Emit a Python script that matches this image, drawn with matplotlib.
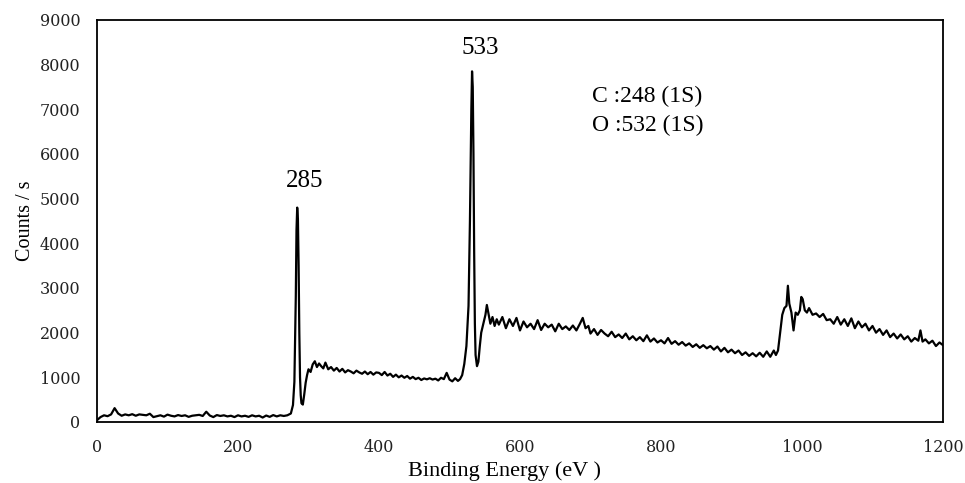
import numpy as np
import matplotlib
matplotlib.use('Agg')
from matplotlib import pyplot as plt

# XPS survey spectrum
energy = [0, 5, 10, 15, 20, 25, 30, 35, 40, 45, 50, 55, 60, 65, 70, 75, 80, 85, 90, 95,
          100, 105, 110, 115, 120, 125, 130, 135, 140, 145, 150, 155, 160, 165, 170, 175, 180, 185, 190, 195,
          200, 205, 210, 215, 220, 225, 230, 235, 240, 245, 250, 255, 260, 265, 270, 275,
          278, 280, 282, 283, 284, 285, 286, 287, 288, 289, 290, 292, 294, 296, 298, 300,
          303, 306, 309, 312, 315, 318, 321, 324,
          328, 332, 336, 340, 344, 348, 352, 356, 360, 364, 368, 372, 376, 380, 384, 388, 392, 396,
          400, 404, 408, 412, 416, 420, 424, 428, 432, 436, 440, 444, 448, 452, 456, 460, 464, 468,
          472, 476, 480, 484, 488, 492, 496, 500, 504, 508, 512, 515, 518, 521, 524, 527, 529, 531,
          532, 533, 534, 535, 536, 537, 539, 541, 543, 545, 548, 551, 553, 555, 558, 561, 564, 567,
          570, 575, 580, 585, 590, 595, 600, 605, 610, 615, 620, 625, 630, 635, 640, 645, 650, 655,
          660, 665, 670, 675, 680, 685, 689, 693, 697, 700, 705, 710, 715, 720, 725, 730, 735, 740,
          745, 750, 755, 760, 765, 770, 775, 780, 785, 790, 795, 800, 805, 810, 815, 820, 825, 830,
          835, 840, 845, 850, 855, 860, 865, 870, 875, 880, 885, 890, 895, 900, 905, 910, 915, 920,
          925, 930, 935, 940, 945, 950, 955, 960, 963, 966, 969, 972, 975, 978, 980, 982, 985, 988,
          991, 994, 997, 999, 1001, 1004, 1007, 1010, 1015, 1020, 1025, 1030, 1035, 1040, 1045, 1050,
          1055, 1060, 1065, 1070, 1075, 1080, 1085, 1090, 1095, 1100, 1105, 1110, 1115, 1120, 1125, 1130,
          1135, 1140, 1145, 1150, 1155, 1160, 1165, 1168, 1171, 1175, 1180, 1185, 1190, 1195, 1200]

counts = [40, 110, 150, 130, 170, 310, 190, 140, 170, 150, 175, 140, 170, 160, 150, 185, 110, 130, 150, 120,
          165, 140, 125, 155, 135, 150, 115, 140, 150, 160, 135, 230, 145, 110, 155, 135, 150, 125, 140, 110,
          150, 125, 140, 115, 150, 125, 140, 100, 145, 115, 155, 125, 150, 135, 150, 190,
          380, 900, 2800, 4300, 4800, 4550, 3500, 2000, 1000, 600, 420, 390, 620, 880, 1050, 1180,
          1120, 1290, 1360, 1230, 1310, 1250, 1200, 1330,
          1180, 1230, 1150, 1210, 1130, 1190, 1110, 1160, 1130, 1090, 1150, 1110, 1080, 1130, 1070, 1120, 1060, 1110,
          1100, 1050, 1120, 1040, 1080, 1010, 1060, 1000, 1040, 990, 1030, 970, 1010, 960, 990, 940, 975, 955,
          980, 950, 970, 930, 990, 960, 1100, 950, 910, 980, 920, 960, 1050, 1300, 1700, 2600, 4500, 7000,
          7850, 7500, 6000, 3800, 2200, 1500, 1250, 1350, 1700, 2000, 2200, 2400, 2620, 2450, 2200, 2350, 2150, 2300,
          2180, 2350, 2100, 2300, 2150, 2330, 2050, 2250, 2120, 2200, 2080, 2280, 2060, 2200, 2120, 2180, 2030, 2200,
          2080, 2140, 2060, 2160, 2050, 2200, 2330, 2100, 2150, 1980, 2080, 1950, 2060, 1980, 1920, 2020, 1900, 1960,
          1880, 1980, 1850, 1920, 1830, 1900, 1810, 1940, 1800, 1870, 1780, 1830, 1760, 1880, 1750, 1810, 1730, 1790,
          1710, 1760, 1680, 1740, 1660, 1720, 1650, 1700, 1620, 1690, 1580, 1660, 1560, 1620, 1540, 1600, 1500, 1560,
          1480, 1540, 1470, 1550, 1460, 1580, 1460, 1600, 1500, 1600, 2000, 2400, 2550, 2600, 3050, 2650, 2450, 2050,
          2450, 2400, 2500, 2800, 2750, 2500, 2450, 2550, 2400, 2430, 2350, 2420, 2280, 2300, 2200, 2350,
          2180, 2300, 2150, 2320, 2100, 2250, 2120, 2200, 2050, 2150, 2000, 2080, 1950, 2050, 1900, 1980,
          1870, 1960, 1850, 1920, 1800, 1880, 1820, 2050, 1800, 1850, 1760, 1820, 1700, 1780, 1720]

peak_labels = ['285', '533']
peak_pos = [(285, 5400), (533, 8380)]
element_text = ['C :248 (1S)', 'O :532 (1S)']

plt.rcParams['font.family'] = ['Liberation Serif', 'DejaVu Serif']

fig = plt.figure(figsize=(9.65, 4.83), dpi=100)
ax = fig.add_axes([0.1005, 0.1263, 0.8767, 0.8323])

ax.plot(energy, counts, color='black', linewidth=1.6)

ax.set_xlim(0, 1200)
ax.set_ylim(0, 9000)
ax.set_xticks(np.arange(0, 1201, 200))
ax.set_yticks(np.arange(0, 9001, 1000))
ax.tick_params(length=0, pad=12)
for lab in ax.get_xticklabels() + ax.get_yticklabels():
    lab.set_fontfamily('DejaVu Serif')
    lab.set_fontsize(11.5)
    lab.set_color('#222222')
for sp in ax.spines.values():
    sp.set_linewidth(1.3)

ax.set_ylabel('Counts / s', fontsize=14.5)
ax.yaxis.set_label_coords(-0.073, 0.5)
ax.set_xlabel('Binding Energy (eV )', fontsize=16)
ax.xaxis.set_label_coords(0.482, -0.097)

for lbl, (px, py) in zip(peak_labels, peak_pos):
    ax.text(px + 10, py, lbl, ha='center', va='center', fontsize=18)

ax.text(702, 7280, element_text[0], ha='left', va='center', fontsize=17)
ax.text(702, 6650, element_text[1], ha='left', va='center', fontsize=17)

plt.savefig('out.png', dpi=100)
